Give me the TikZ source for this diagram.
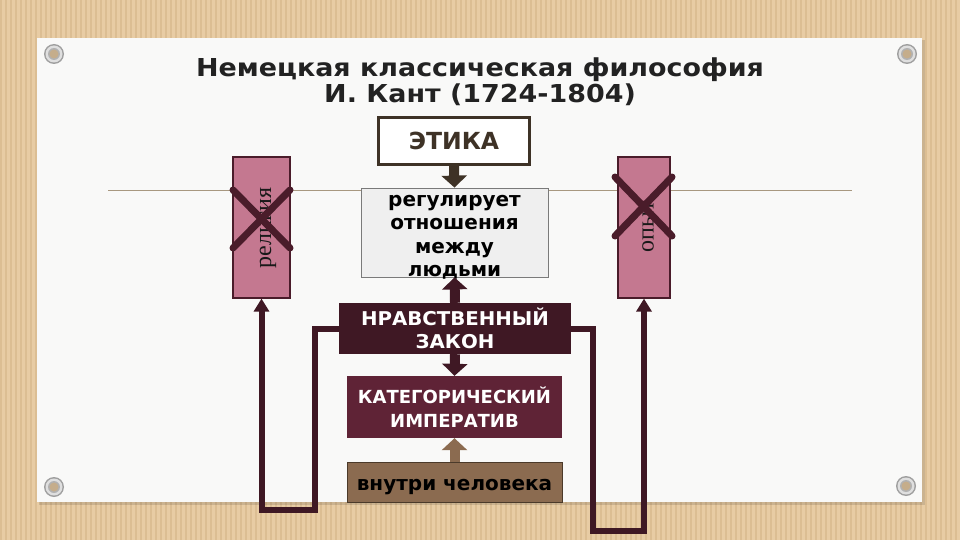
\documentclass[tikz,border=0pt]{standalone}
\usepackage{fontspec}
\setmainfont{DejaVu Sans}
\newfontfamily\titlefont[FakeStretch=1.09]{DejaVu Sans}
\newfontfamily\nravfont[FakeStretch=1.04]{DejaVu Sans}
\newfontfamily\serifcyr{Liberation Serif}
\usetikzlibrary{arrows.meta}
\definecolor{bgtan}{HTML}{E8CCA4}
\definecolor{bgstripe}{HTML}{DCBE93}
\definecolor{paper}{HTML}{F9F9F8}
\definecolor{hlinec}{HTML}{A89880}
\definecolor{ethc}{HTML}{3E3226}
\definecolor{regfill}{HTML}{EFEFEF}
\definecolor{regdraw}{HTML}{7A7A7A}
\definecolor{relfill}{HTML}{C47890}
\definecolor{reldraw}{HTML}{4A1C2A}
\definecolor{nravc}{HTML}{3F1824}
\definecolor{katc}{HTML}{5F2336}
\definecolor{vnc}{HTML}{8B6B50}
\definecolor{vndraw}{HTML}{4B3A2A}
\definecolor{titlec}{HTML}{222222}
\tikzset{
  boxbase/.style={inner sep=0pt, align=center, font=\bfseries},
  ethbox/.style={boxbase, draw=ethc, line width=3pt, fill=white, text=ethc,
    minimum width=151pt, minimum height=47pt, font=\fontsize{23.5}{26}\selectfont\bfseries},
  regbox/.style={inner sep=0pt, draw=regdraw, line width=0.8pt, fill=regfill, text=black,
    minimum width=187pt, minimum height=89pt, font=\fontsize{20}{23.5}\selectfont\bfseries},
  relbox/.style={draw=reldraw, line width=1.2pt, fill=relfill, inner sep=0pt},
  reltext/.style={rotate=90, inner sep=0pt, text=black!90, font=\fontsize{24}{26}\selectfont\serifcyr},
  nravbox/.style={boxbase, fill=nravc, text=white,
    minimum width=232pt, minimum height=51pt, font=\fontsize{19}{23}\selectfont\nravfont\bfseries},
  katbox/.style={boxbase, fill=katc, text=white,
    minimum width=215pt, minimum height=62pt, font=\fontsize{18}{23.5}\selectfont\bfseries},
  vnbox/.style={boxbase, fill=vnc, draw=vndraw, line width=0.8pt, text=black,
    minimum width=215pt, minimum height=40pt, text height=16pt, text depth=0pt,
    font=\fontsize{20}{22}\selectfont\bfseries},
  crossline/.style={draw=reldraw, line width=7pt, line cap=round},
  bigarrow/.style={line width=10pt, -{Triangle[width=25pt,length=12pt]}},
  conn/.style={draw=nravc, line width=6pt, line join=miter, -{Triangle[width=15pt,length=13pt]}},
}
\begin{document}
\begin{tikzpicture}[x=1pt,y=-1pt]
\useasboundingbox (0,0) rectangle (960,540);
% background
\fill[bgtan] (0,0) rectangle (960,540);
\foreach \i in {0,5,...,955} \fill[bgstripe] (\i,0) rectangle ++(2,540);
% paper
\fill[black, opacity=0.12] (39,40) rectangle (925,505);
\fill[paper] (37,38) rectangle (922,502);
% pins
\foreach \px/\py in {54/54,907/54,54/487,906/486}{
  \fill[gray!75] (\px,\py) circle (10pt);
  \fill[gray!25] (\px,\py) circle (8.5pt);
  \fill[gray!60] (\px,\py) circle (6pt);
  \fill[bgtan!85!black] (\px,\py) circle (4.5pt);
}
% title
\node[align=center, text=titlec, font=\fontsize{24.7}{26}\selectfont\titlefont\bfseries] (title) at (480,82)
  {Немецкая классическая философия\\И. Кант (1724-1804)};
% horizontal line
\draw[hlinec, line width=0.8pt] (108,190) -- (852,190);
% boxes
\node[ethbox] (eth) at (454,141) {ЭТИКА};
\node[regbox] (reg) at (454.5,232.5)
  {\parbox[c][89pt][c]{187pt}{\centering\vspace*{10pt}регулирует\\отношения\\между\\людьми}};
\node[relbox, minimum width=57pt, minimum height=141pt] (rel) at (261.5,227.5) {};
\node[relbox, minimum width=52pt, minimum height=141pt] (exp) at (644,227.5) {};
\node[reltext] (relt) at (268,228) {религия};
\node[reltext] (expt) at (648,227) {опыт};
\node[nravbox] (nrav) at (455,328.5) {НРАВСТВЕННЫЙ\\ЗАКОН};
\node[katbox] (kat) at (454.5,407) {КАТЕГОРИЧЕСКИЙ\\ИМПЕРАТИВ};
\node[vnbox] (vn) at (454.5,482) {внутри человека};
% crosses
\draw[crossline] (233,190) -- (290,248);
\draw[crossline] (233,248) -- (290,190);
\draw[crossline] (615,177) -- (672,236);
\draw[crossline] (615,236) -- (672,177);
% arrows
\draw[bigarrow, draw=ethc, fill=ethc] (eth.south) -- (reg.north);
\draw[bigarrow, draw=nravc, fill=nravc] (nrav.north) -- (reg.south);
\draw[bigarrow, draw=nravc, fill=nravc] (nrav.south) -- (kat.north);
\draw[bigarrow, draw=vnc, fill=vnc] (vn.north) -- (kat.south);
% connectors
\draw[conn] (nrav.west) -| (315,510) -| (rel.south);
\draw[conn] (nrav.east) -| (593,531) -| (exp.south);
\end{tikzpicture}
\end{document}
